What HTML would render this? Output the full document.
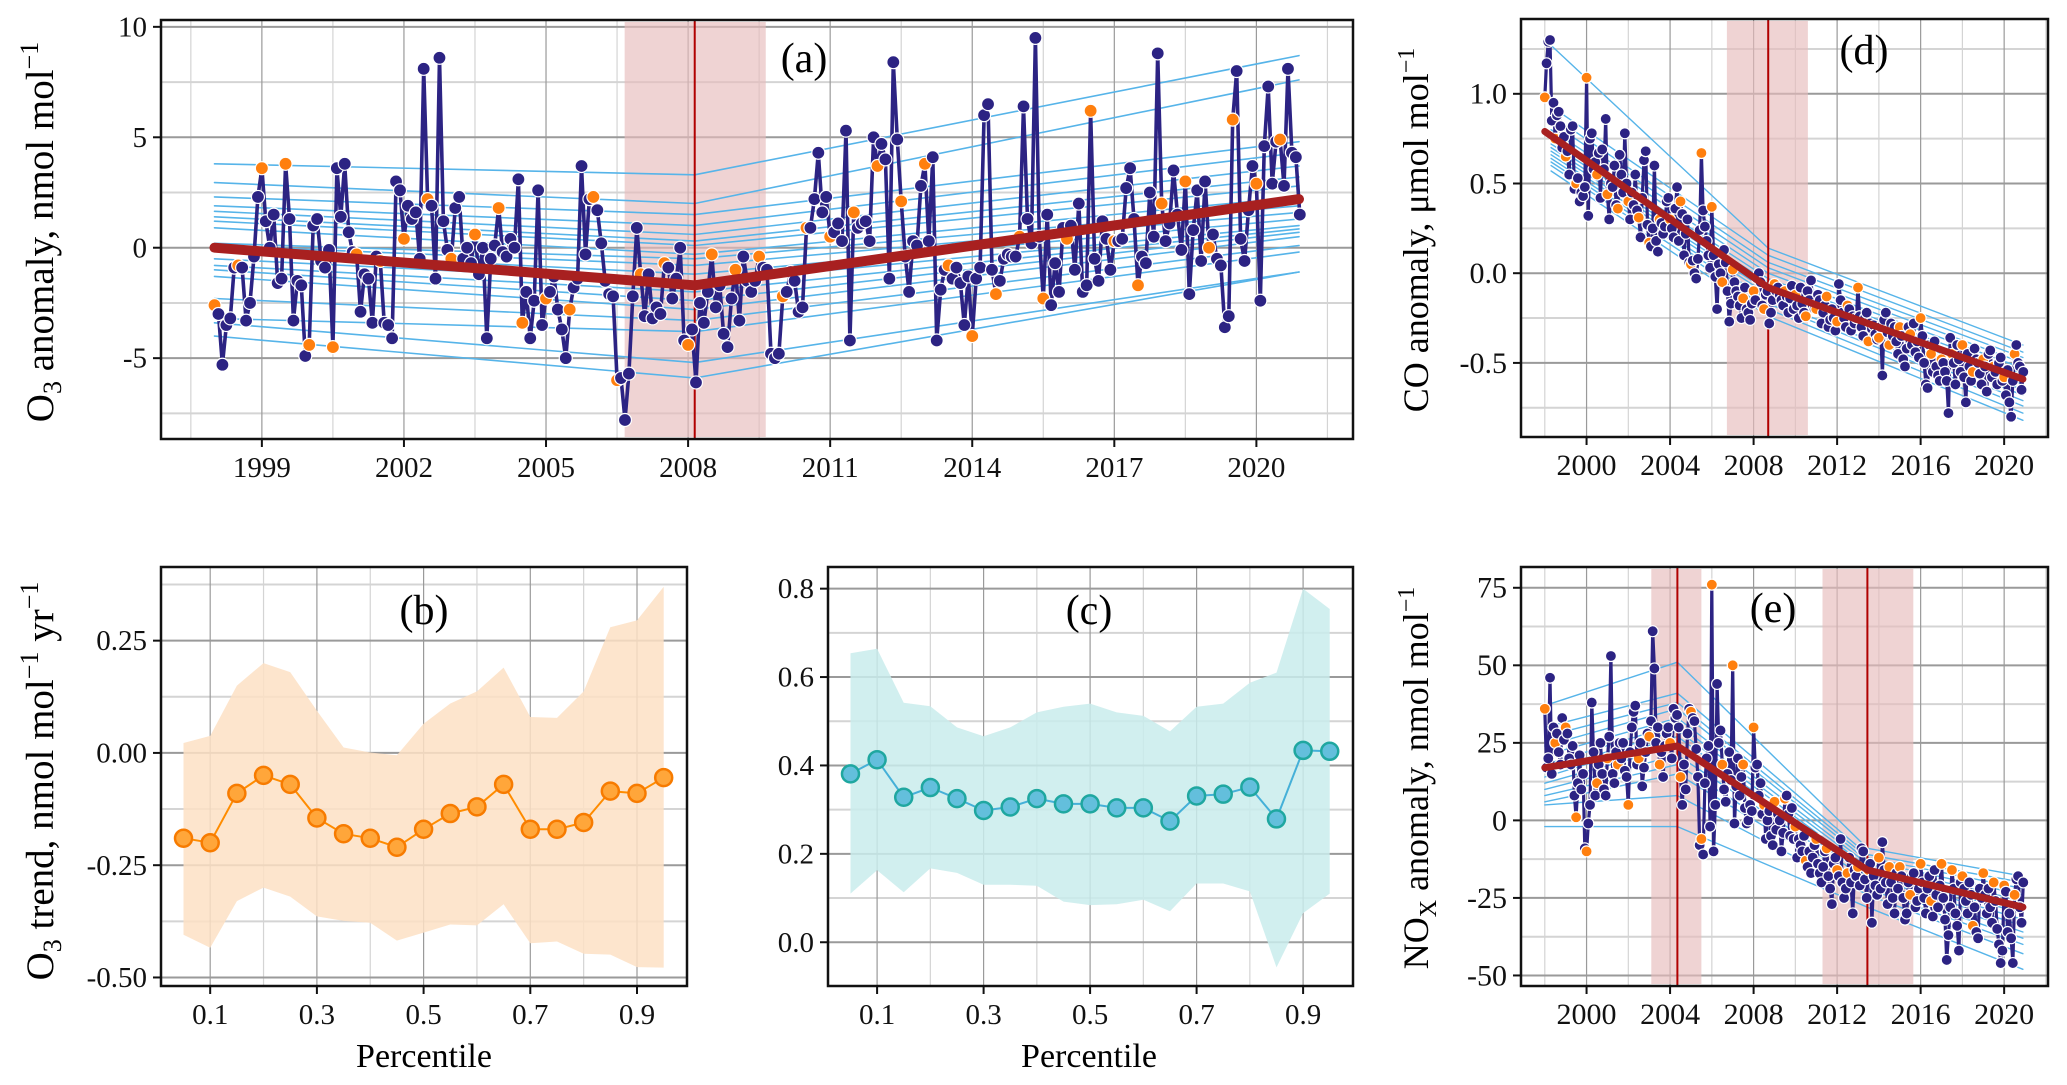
<!DOCTYPE html>
<html><head><meta charset="utf-8">
<style>
html,body{margin:0;padding:0;background:#fff;}
svg{display:block;font-family:"Liberation Serif",serif;}
</style></head>
<body>
<svg id="chart" width="2067" height="1085" viewBox="0 0 2067 1085" xmlns="http://www.w3.org/2000/svg">
<rect x="0" y="0" width="2067" height="1085" fill="#fff"/>
<defs>
<clipPath id="clipA"><rect x="161" y="20" width="1192" height="419"/></clipPath>
<clipPath id="clipB"><rect x="161" y="567" width="526" height="419"/></clipPath>
<clipPath id="clipC"><rect x="828" y="567" width="525" height="419"/></clipPath>
<clipPath id="clipD"><rect x="1521" y="19" width="527" height="418"/></clipPath>
<clipPath id="clipE"><rect x="1521" y="567" width="527" height="419"/></clipPath>
</defs>
<g id="pa"></g>
<g id="pb"></g>
<g id="pc"></g>
<g id="pd"></g>
<g id="pe"></g>

<text transform="translate(53,232) rotate(-90)" text-anchor="middle" font-size="39">O<tspan font-size="26" dy="8">3</tspan><tspan dy="-8"> anomaly, nmol  mol</tspan><tspan font-size="26" dy="-15">−1</tspan></text>
<text transform="translate(53,781) rotate(-90)" text-anchor="middle" font-size="39">O<tspan font-size="26" dy="8">3</tspan><tspan dy="-8"> trend, nmol  mol</tspan><tspan font-size="26" dy="-15">−1</tspan><tspan dy="15"> yr</tspan><tspan font-size="26" dy="-15">−1</tspan></text>
<text transform="translate(1428,230) rotate(-90)" text-anchor="middle" font-size="36">CO anomaly, μmol  mol<tspan font-size="24" dy="-14">−1</tspan></text>
<text transform="translate(1428,778) rotate(-90)" text-anchor="middle" font-size="36">NO<tspan font-size="24" dy="8">X</tspan><tspan dy="-8"> anomaly, nmol  mol</tspan><tspan font-size="24" dy="-14">−1</tspan></text>
<text x="424" y="1067" text-anchor="middle" font-size="34">Percentile</text>
<text x="1089" y="1067" text-anchor="middle" font-size="34">Percentile</text>
<text x="804" y="72" text-anchor="middle" font-size="42">(a)</text>
<text x="424" y="624" text-anchor="middle" font-size="42">(b)</text>
<text x="1089" y="624" text-anchor="middle" font-size="42">(c)</text>
<text x="1864" y="64" text-anchor="middle" font-size="42">(d)</text>
<text x="1773" y="622" text-anchor="middle" font-size="42">(e)</text>
</svg>
<script>
const o3Anom = [
-2.6,-3.0,-5.3,-3.5,-3.2,-0.9,-0.8,-0.9,-3.3,-2.5,-0.4,2.3,
3.6,1.2,0.0,1.5,-1.6,-1.4,3.8,1.3,-3.3,-1.5,-1.7,-4.9,
-4.4,1.0,1.3,-0.6,-0.9,-0.1,-4.5,3.6,1.4,3.8,0.7,-0.2,
-0.3,-2.9,-1.2,-1.4,-3.4,-0.4,-0.6,-3.4,-3.5,-4.1,3.0,2.6,
0.4,1.9,1.3,1.6,-0.5,8.1,2.2,1.9,-1.4,8.6,1.2,-0.1,
-0.5,1.8,2.3,-0.5,0.0,-0.7,0.6,-1.2,0.0,-4.1,-0.5,0.1,
1.8,-0.2,-0.4,0.4,0.0,3.1,-3.4,-2.0,-4.1,-2.4,2.6,-3.5,
-2.3,-2.0,-1.3,-2.8,-3.7,-5.0,-2.8,-1.8,-1.4,3.7,-0.3,2.2,
2.3,1.7,0.2,-1.5,-2.1,-2.2,-6.0,-5.9,-7.8,-5.7,-2.2,0.9,
-1.2,-3.1,-1.2,-3.2,-2.7,-3.0,-0.7,-0.9,-2.3,-1.4,0.0,-4.2,
-4.4,-3.7,-6.1,-2.5,-3.4,-2.0,-0.3,-2.7,-1.7,-3.9,-4.5,-2.3,
-1.0,-3.3,-0.4,-1.5,-2.0,-1.5,-0.4,-0.9,-1.0,-4.8,-5.0,-4.8,
-2.2,-2.0,-1.1,-1.5,-2.9,-2.7,0.9,0.9,2.2,4.3,1.6,2.3,
0.5,0.7,1.1,0.3,5.3,-4.2,1.6,0.9,1.1,1.2,0.3,5.0,
3.7,4.7,4.0,-1.4,8.4,4.9,2.1,-0.4,-2.0,0.3,0.1,2.8,
3.8,0.3,4.1,-4.2,-1.9,-1.0,-0.8,-1.4,-0.9,-1.6,-3.5,-1.3,
-4.0,-1.4,-0.9,6.0,6.5,-1.0,-2.1,-1.5,-0.5,-0.3,-0.4,-0.4,
0.5,6.4,1.3,0.2,9.5,0.5,-2.3,1.5,-2.6,-0.7,-2.0,0.9,
0.4,1.0,-1.0,2.0,-2.0,-1.7,6.2,-0.5,-1.5,1.2,0.4,-1.0,
0.3,0.3,0.4,2.7,3.6,1.3,-1.7,-0.4,-0.7,2.5,0.5,8.8,
2.0,0.3,1.1,3.5,1.5,-0.1,3.0,-2.1,0.8,2.6,-0.6,3.0,
0.0,0.6,-0.5,-0.8,-3.6,-3.1,5.8,8.0,0.4,-0.6,1.7,3.7,
2.9,-2.4,4.6,7.3,2.9,4.8,4.9,2.8,8.1,4.3,4.1,1.5];
const o3TrendYears = [1998.0, 2008.14, 2020.9];
const o3TrendVals = [0.0, -1.7, 2.2];
const o3QStart = [3.8,2.95,2.3,1.9,1.65,1.4,1.2,0.9,0.2,0.1,-0.1,-0.5,-0.8,-1.0,-1.3,-2.3,-3.2,-3.4,-4.0];
const o3QBreak = [3.3,2.0,1.5,1.0,0.6,0.3,0.1,-0.3,-0.5,-0.8,-1.2,-1.6,-2.0,-2.4,-2.8,-3.3,-3.8,-5.2,-5.9];
const o3QEnd = [8.7,7.6,4.8,4.3,3.7,3.2,2.8,2.3,1.9,1.6,1.3,1.0,0.85,0.7,0.5,0.1,-0.2,-1.1,-1.1];
const o3Shade = [2006.66, 2009.64];
const o3Break = 2008.14;

const pctls = [0.05,0.1,0.15,0.2,0.25,0.3,0.35,0.4,0.45,0.5,0.55,0.6,0.65,0.7,0.75,0.8,0.85,0.9,0.95];
const bMean = [-0.19,-0.20,-0.09,-0.05,-0.07,-0.145,-0.18,-0.19,-0.21,-0.17,-0.135,-0.12,-0.07,-0.17,-0.17,-0.155,-0.085,-0.09,-0.055];
const bUpper = [0.022,0.038,0.15,0.20,0.18,0.094,0.012,0.001,-0.005,0.065,0.11,0.137,0.19,0.08,0.078,0.137,0.28,0.295,0.37];
const bLower = [-0.405,-0.434,-0.33,-0.30,-0.32,-0.364,-0.374,-0.378,-0.418,-0.40,-0.382,-0.384,-0.337,-0.424,-0.42,-0.447,-0.449,-0.477,-0.478];
const cMean = [0.381,0.413,0.328,0.35,0.325,0.298,0.306,0.325,0.313,0.313,0.304,0.304,0.274,0.331,0.335,0.351,0.279,0.434,0.432];
const cUpper = [0.654,0.664,0.542,0.534,0.486,0.466,0.486,0.52,0.533,0.54,0.52,0.512,0.477,0.533,0.54,0.587,0.61,0.80,0.754];
const cLower = [0.11,0.163,0.113,0.167,0.157,0.13,0.13,0.128,0.092,0.084,0.086,0.096,0.07,0.133,0.133,0.115,-0.057,0.066,0.11];

const coAnom = [
0.98,1.17,1.29,1.30,0.85,0.95,0.75,0.88,0.90,0.82,0.70,0.76,
0.65,0.68,0.55,0.80,0.82,0.47,0.50,0.53,0.40,0.45,0.43,0.48,
1.09,0.32,0.75,0.78,0.58,0.62,0.55,0.67,0.42,0.69,0.58,0.86,
0.44,0.30,0.50,0.48,0.60,0.38,0.36,0.66,0.55,0.45,0.78,0.50,
0.40,0.30,0.45,0.38,0.55,0.35,0.31,0.20,0.42,0.63,0.68,0.27,
0.17,0.15,0.25,0.60,0.18,0.12,0.30,0.28,0.22,0.26,0.40,0.42,
0.30,0.25,0.20,0.36,0.48,0.18,0.40,0.33,0.10,0.22,0.30,0.06,
0.05,0.07,0.00,-0.03,0.08,0.24,0.67,0.35,0.26,0.18,0.10,0.03,
0.37,0.10,-0.02,-0.20,0.05,0.00,-0.05,0.13,0.06,-0.10,-0.27,-0.17,
0.02,-0.05,-0.10,-0.13,-0.18,-0.25,-0.14,-0.08,-0.20,-0.22,-0.26,-0.17,
-0.10,-0.15,-0.03,0.00,-0.05,-0.18,-0.20,-0.12,-0.10,-0.28,-0.22,-0.15,
-0.06,-0.10,-0.08,-0.12,-0.15,-0.18,-0.10,-0.13,-0.22,-0.14,-0.07,-0.20,
-0.12,-0.18,-0.25,-0.08,-0.17,-0.22,-0.24,-0.10,-0.15,-0.04,-0.18,-0.20,
-0.20,-0.12,-0.15,-0.28,-0.22,-0.18,-0.13,-0.30,-0.26,-0.20,-0.25,-0.32,
-0.27,-0.06,-0.15,-0.22,-0.25,-0.30,-0.18,-0.20,-0.32,-0.24,-0.28,-0.25,
-0.08,-0.24,-0.30,-0.35,-0.25,-0.22,-0.38,-0.28,-0.31,-0.29,-0.34,-0.37,
-0.36,-0.30,-0.57,-0.26,-0.22,-0.33,-0.40,-0.28,-0.35,-0.30,-0.38,-0.45,
-0.30,-0.35,-0.48,-0.52,-0.42,-0.30,-0.34,-0.40,-0.28,-0.44,-0.38,-0.47,
-0.25,-0.35,-0.50,-0.62,-0.64,-0.40,-0.45,-0.55,-0.38,-0.52,-0.57,-0.60,
-0.48,-0.50,-0.55,-0.60,-0.78,-0.36,-0.45,-0.50,-0.62,-0.40,-0.48,-0.55,
-0.40,-0.58,-0.72,-0.45,-0.52,-0.60,-0.55,-0.42,-0.48,-0.50,-0.56,-0.62,
-0.48,-0.52,-0.66,-0.45,-0.43,-0.58,-0.52,-0.55,-0.62,-0.50,-0.47,-0.60,
-0.58,-0.68,-0.54,-0.72,-0.80,-0.60,-0.45,-0.40,-0.50,-0.52,-0.65,-0.55];
const coTrendYears = [1998.0, 2008.7, 2020.9];
const coTrendVals = [0.79, -0.08, -0.59];
const coQStart = [1.27,0.93,0.88,0.84,0.80,0.76,0.72,0.70,0.68,0.66,0.64,0.62,0.60,0.57];
const coQBreak = [0.14,0.10,0.06,0.03,0.0,-0.03,-0.05,-0.08,-0.10,-0.12,-0.15,-0.17,-0.20,-0.24];
const coQEnd = [-0.40,-0.44,-0.47,-0.50,-0.53,-0.56,-0.59,-0.62,-0.65,-0.68,-0.71,-0.74,-0.78,-0.82];
const coShade = [2006.72, 2010.6];
const coBreak = 2008.7;

const noxAnom = [
36,17,20,46,15,30,25,28,22,18,33,26,
30,28,20,18,24,8,1,12,21,10,15,-9,
-10,-1,5,38,22,8,12,18,25,15,10,8,
20,27,53,15,12,22,18,25,20,25,16,14,
5,22,30,35,37,18,20,25,11,17,22,28,
27,32,61,49,25,30,18,22,14,24,28,30,
25,20,36,33,34,30,14,5,18,10,28,36,
35,33,32,23,14,-8,-6,-11,12,20,24,-2,
76,-10,5,44,25,29,18,10,6,15,22,13,
50,-1,11,20,8,14,18,4,-1,0,5,3,
30,17,18,8,12,2,5,-6,0,3,-5,-8,
6,-3,2,0,-10,-4,7,8,2,-5,4,-6,
-2,-12,-6,-8,-10,-5,-13,-15,-10,-17,-12,-8,
-6,-14,-17,-20,-15,-10,-9,-18,-22,-27,-14,-12,
-16,-18,-6,-20,-25,-22,-17,-12,-20,-30,-16,-18,
-15,-21,-9,-10,-19,-25,-16,-14,-33,-18,-21,-24,
-12,-22,-7,-16,-20,-27,-15,-20,-25,-30,-17,-22,
-15,-18,-25,-32,-30,-20,-24,-18,-17,-28,-26,-22,
-14,-20,-25,-30,-22,-18,-26,-31,-16,-24,-28,-21,
-14,-25,-32,-45,-37,-28,-16,-22,-30,-34,-42,-20,
-18,-22,-26,-30,-20,-24,-34,-28,-36,-38,-22,-25,
-17,-24,-30,-22,-28,-33,-20,-26,-35,-40,-46,-42,
-21,-23,-36,-30,-38,-46,-24,-19,-18,-28,-33,-20];
const noxTrendYears = [1998.0, 2004.35, 2013.45, 2020.9];
const noxTrendVals = [17, 24, -16, -28];
const noxQ1998 = [37,30,27,24,21,18,16,14,12,10,8,6,5,-2];
const noxQ2004 = [51,41,38,36,33,31,29,27,24,21,18,15,8,-2];
const noxQ2013 = [-9,-11,-12,-13,-14,-15,-16,-17,-18,-19,-21,-22,-24,-28];
const noxQ2020 = [-18,-20,-22,-24,-26,-28,-30,-32,-34,-36,-38,-40,-43,-48];
const noxShades = [[2003.1, 2005.5],[2011.3, 2015.65]];
const noxBreaks = [2004.35, 2013.45];

const aXTicks = [1999,2002,2005,2008,2011,2014,2017,2020];
const aYTicks = [-5,0,5,10];
const bXTicks = [0.1,0.3,0.5,0.7,0.9];
const bYTicks = [-0.5,-0.25,0,0.25];
const bYLabels = ["-0.50","-0.25","0.00","0.25"];
const cYTicks = [0,0.2,0.4,0.6,0.8];
const cYLabels = ["0.0","0.2","0.4","0.6","0.8"];
const deXTicks = [2000,2004,2008,2012,2016,2020];
const dYTicks = [-0.5,0,0.5,1.0];
const dYLabels = ["-0.5","0.0","0.5","1.0"];
const eYTicks = [-50,-25,0,25,50,75];

const NS = "http://www.w3.org/2000/svg";
function mk(tag, attrs, parent){
  const e = document.createElementNS(NS, tag);
  for (const k in attrs) e.setAttribute(k, attrs[k]);
  parent.appendChild(e);
  return e;
}
function makeAxis(box, xd, yd){
  return {
    x: v => box.x0 + (v - xd[0]) / (xd[1] - xd[0]) * (box.x1 - box.x0),
    y: v => box.y1 - (v - yd[0]) / (yd[1] - yd[0]) * (box.y1 - box.y0)
  };
}
function drawFrame(g, box, ax, xMaj, xMin, yMaj, yMin){
  const gg = mk('g', {}, g);
  
  
  const inX = v => ax.x(v) >= box.x0 && ax.x(v) <= box.x1;
  const inY = v => ax.y(v) >= box.y0 && ax.y(v) <= box.y1;
  xMin.filter(inX).forEach(v => {
    const l = mk('line', {x1:ax.x(v), x2:ax.x(v), y1:box.y0, y2:box.y1, stroke:'#d4d4d4', 'stroke-width':1.2}, gg);
    
    
  });
  yMin.filter(inY).forEach(v => {
    const l = mk('line', {x1:box.x0, x2:box.x1, y1:ax.y(v), y2:ax.y(v), stroke:'#d4d4d4', 'stroke-width':2}, gg);
    
    
  });
  xMaj.filter(inX).forEach(v => {
    const l = mk('line', {x1:ax.x(v), x2:ax.x(v), y1:box.y0, y2:box.y1, stroke:'#9a9a9a', 'stroke-width':1.2}, gg);
    
    
  });
  yMaj.filter(inY).forEach(v => {
    const l = mk('line', {x1:box.x0, x2:box.x1, y1:ax.y(v), y2:ax.y(v), stroke:'#9a9a9a', 'stroke-width':2}, gg);
    
    
  });
}
function drawBorderTicks(g, box, ax, xTicks, xLabels, yTicks, yLabels, fs){
  const r = mk('rect', {x:box.x0, y:box.y0, width:box.x1-box.x0, height:box.y1-box.y0, fill:'none', stroke:'#111', 'stroke-width':2.5}, g);
  
  
  xTicks.forEach((v,i) => {
    const t = mk('line', {x1:ax.x(v), x2:ax.x(v), y1:box.y1, y2:box.y1+8, stroke:'#111', 'stroke-width':2}, g);
    
    
    const tx = mk('text', {x:ax.x(v), y:box.y1+38, 'text-anchor':'middle', 'font-size':fs, fill:'#111'}, g);
    tx.textContent = xLabels[i];
    
    
  });
  yTicks.forEach((v,i) => {
    const t = mk('line', {x1:box.x0-8, x2:box.x0, y1:ax.y(v), y2:ax.y(v), stroke:'#111', 'stroke-width':2}, g);
    
    
    const tx = mk('text', {x:box.x0-14, y:ax.y(v)+fs*0.33, 'text-anchor':'end', 'font-size':fs, fill:'#111'}, g);
    tx.textContent = yLabels[i];
    
    
  });
}
function lineThrough(g, ax, xs, ys, color, w, name){
  const d = xs.map((x,i) => (i?'L':'M') + ax.x(x).toFixed(1) + ',' + ax.y(ys[i]).toFixed(1)).join(' ');
  const p = mk('path', {d:d, fill:'none', stroke:color, 'stroke-width':w, 'stroke-linejoin':'round', 'stroke-linecap':'round'}, g);
  
  
  return p;
}
function drawShade(g, box, ax, a, b){
  const r = mk('rect', {x:ax.x(a), y:box.y0+2, width:ax.x(b)-ax.x(a), height:box.y1-box.y0-4, fill:'#e7bcbc', opacity:0.65}, g);
  
  
}
function drawVLine(g, box, ax, v){
  const l = mk('line', {x1:ax.x(v), x2:ax.x(v), y1:box.y0, y2:box.y1, stroke:'#b00000', 'stroke-width':2}, g);
  
  
}
function drawSeries(g, ax, vals, r, lw, name){
  const yrs = vals.map((v,i) => 1998 + i/12);
  lineThrough(g, ax, yrs, vals, '#2c2383', lw, name + '-line');
  vals.forEach((v,i) => {
    const orange = (i % 6 === 0);
    const c = mk('circle', {cx:ax.x(yrs[i]), cy:ax.y(v), r:r, fill: orange ? '#ff7f0e' : '#2c2383', stroke:'#fff', 'stroke-width':1.2}, g);
    
    
  });
}
function yrRange(a,b,s){ const r=[]; for(let v=a; v<=b+1e-9; v+=s) r.push(+v.toFixed(3)); return r; }

(function(){
  const g = document.getElementById('pa');
  const box = {x0:161, x1:1353, y0:20, y1:439};
  const ax = makeAxis(box, [1996.87, 2022.04], [-8.66, 10.31]);
  drawFrame(g, box, ax, aXTicks, yrRange(1997.5,2021.5,3), aYTicks, [-7.5,-2.5,2.5,7.5]);
  const inner = mk('g', {'clip-path':'url(#clipA)'}, g);
  drawShade(inner, box, ax, o3Shade[0], o3Shade[1]);
  o3QStart.forEach((s,i) => lineThrough(inner, ax, [1998.0, o3Break, 2020.9], [s, o3QBreak[i], o3QEnd[i]], '#56b4e9', 1.6, 'quantile-trend-line'));
  drawVLine(inner, box, ax, o3Break);
  drawSeries(inner, ax, o3Anom, 6.5, 3.6, 'o3-series');
  lineThrough(inner, ax, o3TrendYears, o3TrendVals, '#a82020', 10, 'o3-trend-line');
  drawBorderTicks(g, box, ax, aXTicks, aXTicks.map(String), aYTicks, aYTicks.map(String), 29);
})();

function bandPanel(id, clip, box, yd, mean, up, lo, yT, yL, bandColor, lineColor, ptFill, ptStroke, nm){
  const g = document.getElementById(id);
  const ax = makeAxis(box, [0.0078, 0.9937], yd);
  const minorY = [];
  const st = yT[1]-yT[0];
  minorY.push(yT[0]-st/2);
  for (let i=0;i<yT.length;i++) minorY.push(yT[i]+st/2);
  drawFrame(g, box, ax, bXTicks, [0.2,0.4,0.6,0.8], yT, minorY);
  const inner = mk('g', {'clip-path':'url('+clip+')'}, g);
  const pts = pctls.map((p,i)=>ax.x(p).toFixed(1)+','+ax.y(up[i]).toFixed(1))
    .concat(pctls.slice().reverse().map((p,j)=>{const i=pctls.length-1-j; return ax.x(p).toFixed(1)+','+ax.y(lo[i]).toFixed(1);}));
  const poly = mk('polygon', {points:pts.join(' '), fill:bandColor, opacity:0.85}, inner);
  
  
  lineThrough(inner, ax, pctls, mean, lineColor, 2, nm + '-mean-line');
  pctls.forEach((p,i) => {
    const c = mk('circle', {cx:ax.x(p), cy:ax.y(mean[i]), r:8.5, fill:ptFill, stroke:ptStroke, 'stroke-width':2.5}, inner);
    
    
  });
  drawBorderTicks(g, box, ax, bXTicks, bXTicks.map(String), yT, yL, 29);
}
bandPanel('pb', '#clipB', {x0:161,x1:687,y0:567,y1:986}, [-0.519,0.414], bMean, bUpper, bLower, bYTicks, bYLabels, '#fde0c4', '#ff8c00', '#ffa63a', '#f77b00', 'o3-trend');
bandPanel('pc', '#clipC', {x0:828,x1:1353,y0:567,y1:986}, [-0.099,0.849], cMean, cUpper, cLower, cYTicks, cYLabels, '#c9ecec', '#45b0d8', '#63bfdc', '#1fa7a0', 'co-trend');

(function(){
  const g = document.getElementById('pd');
  const box = {x0:1521, x1:2048, y0:19, y1:437};
  const ax = makeAxis(box, [1996.86, 2022.1], [-0.913, 1.417]);
  drawFrame(g, box, ax, deXTicks, [1998,2002,2006,2010,2014,2018,2022], dYTicks, [-0.75,-0.25,0.25,0.75,1.25]);
  const inner = mk('g', {'clip-path':'url(#clipD)'}, g);
  drawShade(inner, box, ax, coShade[0], coShade[1]);
  coQStart.forEach((s,i) => lineThrough(inner, ax, [1998.3, coBreak, 2020.9], [s, coQBreak[i], coQEnd[i]], '#56b4e9', 1.4, 'quantile-trend-line'));
  drawVLine(inner, box, ax, coBreak);
  drawSeries(inner, ax, coAnom, 5.5, 3.2, 'co-series');
  lineThrough(inner, ax, coTrendYears, coTrendVals, '#a82020', 7, 'co-trend-line');
  drawBorderTicks(g, box, ax, deXTicks, deXTicks.map(String), dYTicks, dYLabels, 30);
})();

(function(){
  const g = document.getElementById('pe');
  const box = {x0:1521, x1:2048, y0:567, y1:986};
  const ax = makeAxis(box, [1996.86, 2022.1], [-53.4, 81.7]);
  drawFrame(g, box, ax, deXTicks, [1998,2002,2006,2010,2014,2018,2022], eYTicks, [-37.5,-12.5,12.5,37.5,62.5]);
  const inner = mk('g', {'clip-path':'url(#clipE)'}, g);
  noxShades.forEach(s => drawShade(inner, box, ax, s[0], s[1]));
  noxQ1998.forEach((s,i) => lineThrough(inner, ax, [1998.0, noxBreaks[0], noxBreaks[1], 2020.9], [s, noxQ2004[i], noxQ2013[i], noxQ2020[i]], '#56b4e9', 1.4, 'quantile-trend-line'));
  noxBreaks.forEach(b => drawVLine(inner, box, ax, b));
  drawSeries(inner, ax, noxAnom, 5.5, 3.2, 'nox-series');
  lineThrough(inner, ax, noxTrendYears, noxTrendVals, '#a82020', 7, 'nox-trend-line');
  drawBorderTicks(g, box, ax, deXTicks, deXTicks.map(String), eYTicks, eYTicks.map(String), 30);
})();
</script>
</body></html>
